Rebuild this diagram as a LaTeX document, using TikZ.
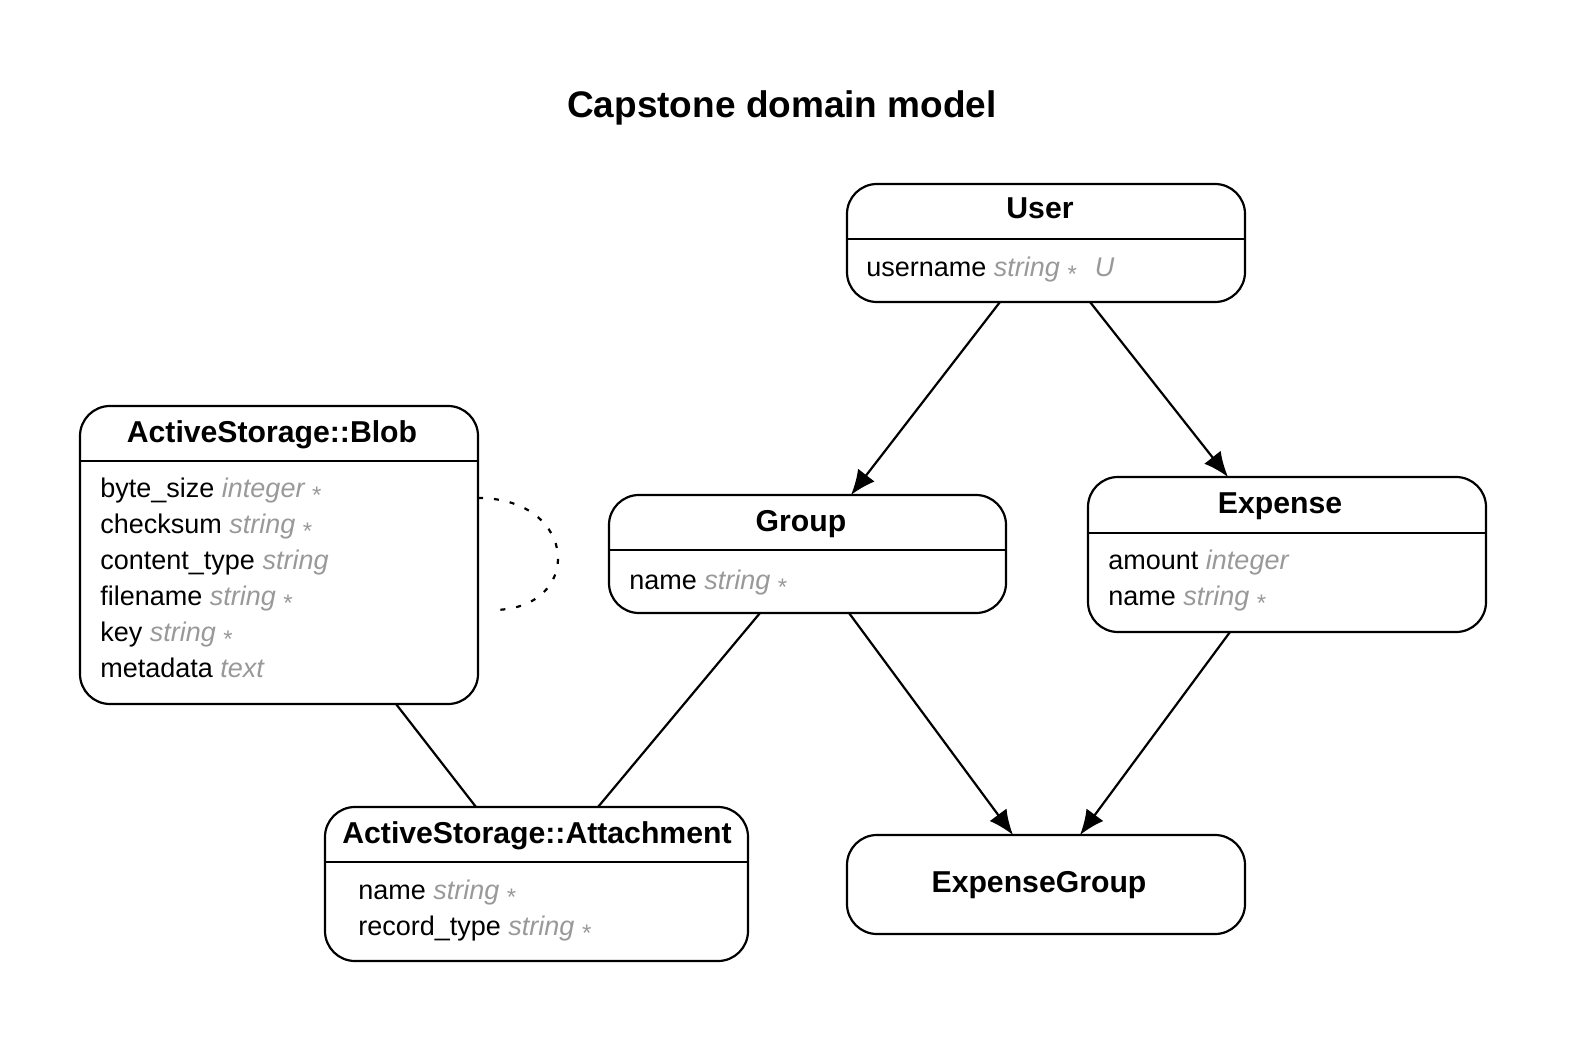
\documentclass[tikz,border=0pt]{standalone}
\usepackage{fontspec}
\setmainfont{Liberation Sans}
\usetikzlibrary{arrows.meta}
\definecolor{typegray}{HTML}{999999}
\newcommand{\ty}[1]{\textcolor{typegray}{\itshape #1}}
\newcommand{\req}{\textcolor{typegray}{\raisebox{-3pt}{\fontsize{12}{12}\selectfont *}}}
\tikzset{
  entity/.style 2 args={draw, line width=1.1pt, rounded corners=15pt, inner sep=0pt, outer sep=0pt,
    minimum width={#1*0.5pt}, minimum height={#2*0.5pt}},
  hdr/.style={anchor=base, inner sep=0pt, font=\bfseries\fontsize{15.1}{18}\selectfont},
  attr/.style={anchor=base west, inner sep=0pt, font=\fontsize{13.5}{16}\selectfont},
  divider/.style={line width=1.1pt},
  rel/.style={line width=1.1pt},
  arr/.style={rel, -{Latex[length=12.5pt,width=10.5pt]}},
  selfrel/.style={line width=1.1pt, dash pattern=on 2.5pt off 5.5pt},
}
\begin{document}
\begin{tikzpicture}[x=0.5pt, y=-0.5pt]
\useasboundingbox (0,0) rectangle (1573,1048);
% title
\node[anchor=base, inner sep=0pt, font=\bfseries\fontsize{18.5}{22}\selectfont] (title) at (782,118) {Capstone domain model};

% entities
\node[entity={398}{118}] (user) at (1046,243) {};
\node[entity={398}{298}] (blob) at (279,555) {};
\node[entity={397}{118}] (group) at (807.5,554) {};
\node[entity={398}{155}] (expense) at (1287,554.5) {};
\node[entity={423}{154}] (attach) at (536.5,884) {};
\node[entity={398}{99}] (eg) at (1046,884.5) {};

% dividers
\draw[divider] (user.west |- 0,239) -- (user.east |- 0,239);
\draw[divider] (blob.west |- 0,461) -- (blob.east |- 0,461);
\draw[divider] (group.west |- 0,550) -- (group.east |- 0,550);
\draw[divider] (expense.west |- 0,533) -- (expense.east |- 0,533);
\draw[divider] (attach.west |- 0,862) -- (attach.east |- 0,862);

% headers
\node[hdr] (userT) at (1040,219) {User};
\node[hdr] (blobT) at (272,442) {ActiveStorage::Blob};
\node[hdr] (groupT) at (801,531) {Group};
\node[hdr] (expenseT) at (1280,513) {Expense};
\node[hdr] (attachT) at (537,843) {ActiveStorage::Attachment};
\node[hdr] (egT) at (1039,892) {ExpenseGroup};

% attributes
\node[attr] (ua1) at (866,277) {username \ty{string} \req\hspace{9pt}\ty{U}};

\node[attr] (ba1) at (100,497) {byte\_size \ty{integer} \req};
\node[attr] (ba2) at (100,533) {checksum \ty{string} \req};
\node[attr] (ba3) at (100,569) {content\_type \ty{string}};
\node[attr] (ba4) at (100,605) {filename \ty{string} \req};
\node[attr] (ba5) at (100,641) {key \ty{string} \req};
\node[attr] (ba6) at (100,677) {metadata \ty{text}};

\node[attr] (ga1) at (629,589) {name \ty{string} \req};

\node[attr] (ea1) at (1108,569) {amount \ty{integer}};
\node[attr] (ea2) at (1108,605) {name \ty{string} \req};

\node[attr] (aa1) at (358,899) {name \ty{string} \req};
\node[attr] (aa2) at (358,935) {record\_type \ty{string} \req};

% relations
\draw[arr] (user.south -| 1000,0) -- (group.north -| 851,0);
\draw[arr] (user.south -| 1090,0) -- (expense.north -| 1228,0);
\draw[arr] (group.south -| 849,0) -- (eg.north -| 1013,0);
\draw[arr] (expense.south -| 1230,0) -- (eg.north -| 1080,0);
\draw[rel] (group.south -| 760,0) -- (attach.north -| 598,0);
\draw[rel] (blob.south -| 396,0) -- (attach.north -| 476,0);

% polymorphic self loop
\coordinate (loopend) at (490,610);
\draw[selfrel] (blob.east |- 0,498) .. controls (580,498) and (585,612) .. (loopend);
\end{tikzpicture}
\end{document}
